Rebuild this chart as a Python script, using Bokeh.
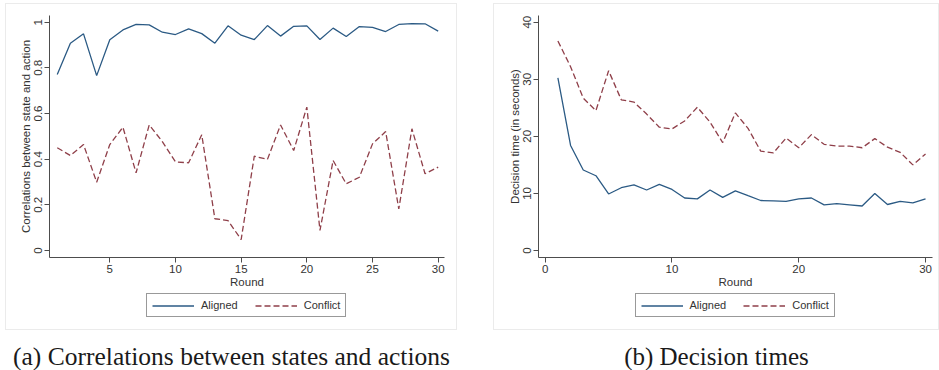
from bokeh.plotting import figure
from bokeh.models import Range1d, FixedTicker, Legend, LegendItem
from bokeh.layouts import row, column
from bokeh.core.properties import value
from bokeh.embed import file_html
from bokeh.resources import INLINE

# ---------------- data ----------------
rounds = [1, 2, 3, 4, 5, 6, 7, 8, 9, 10, 11, 12, 13, 14, 15,
          16, 17, 18, 19, 20, 21, 22, 23, 24, 25, 26, 27, 28, 29, 30]
series_names = ["Aligned", "Conflict"]

corr_aligned = [0.771, 0.908, 0.949, 0.766, 0.923, 0.966, 0.990, 0.988, 0.956, 0.946,
                0.971, 0.950, 0.908, 0.984, 0.943, 0.924, 0.985, 0.939, 0.982, 0.984,
                0.924, 0.974, 0.937, 0.981, 0.977, 0.959, 0.990, 0.994, 0.993, 0.961]
corr_conflict = [0.450, 0.416, 0.464, 0.299, 0.464, 0.540, 0.340, 0.550, 0.477, 0.388,
                 0.384, 0.507, 0.139, 0.131, 0.048, 0.413, 0.399, 0.550, 0.438, 0.628,
                 0.088, 0.394, 0.292, 0.321, 0.467, 0.521, 0.182, 0.533, 0.336, 0.365]

time_aligned = [30.25, 18.4, 14.1, 13.1, 9.9, 11.0, 11.5, 10.6, 11.6, 10.7,
                9.2, 9.05, 10.6, 9.3, 10.45, 9.6, 8.76, 8.7, 8.6, 9.05,
                9.2, 8.0, 8.2, 8.0, 7.8, 10.0, 8.06, 8.6, 8.35, 9.05]
time_conflict = [36.7, 32.2, 26.7, 24.5, 31.5, 26.4, 26.0, 23.9, 21.6, 21.3,
                 22.7, 25.1, 22.5, 18.9, 24.1, 21.4, 17.4, 17.1, 19.7, 18.0,
                 20.3, 18.6, 18.3, 18.3, 18.0, 19.6, 18.1, 17.2, 15.0, 16.9]

corr_xticks = [5, 10, 15, 20, 25, 30]
corr_yticks = [0, 0.2, 0.4, 0.6, 0.8, 1]
corr_ytick_labels = ["0", "0.2", "0.4", "0.6", "0.8", "1"]
time_xticks = [0, 10, 20, 30]
time_yticks = [0, 10, 20, 30, 40]
time_ytick_labels = ["0", "10", "20", "30", "40"]

x_title = "Round"
corr_ytitle = "Correlations between state and action"
time_ytitle = "Decision time (in seconds)"
caption_a = "(a) Correlations between states and actions"
caption_b = "(b) Decision times"

# ---------------- style ----------------
NAVY = "#2b5a84"
MAROON = "#8f3f49"
AXIS = "#4d4d4d"
TEXT = "#333333"
SANS = "Liberation Sans"
SERIF = "Liberation Serif"

TOP = 12          # frame top inside the chart figure
FRAME_H = 242     # chart frame height
AX_BOTTOM = 36    # space under the chart frame for tick labels + axis title
LEG_H = 77        # legend + caption strip height
LEG_BOTTOM = 53   # legend box bottom, measured up from the strip bottom
CAP_Y = 14        # caption centre, measured up from the strip bottom
LEG_W = 201       # expected legend box width
PANEL_H = 327     # faint panel frame height

FRAME_CSS = ("linear-gradient(#ebebeb,#ebebeb) left top/1px {h}px no-repeat, "
             "linear-gradient(#ebebeb,#ebebeb) right top/1px {h}px no-repeat, "
             "linear-gradient(#ebebeb,#ebebeb) left top/100% 1px no-repeat, "
             "linear-gradient(#ebebeb,#ebebeb) left {b}px/100% 1px no-repeat").format(
                 h=PANEL_H, b=PANEL_H - 1)


def style_axes(p):
    p.yaxis.major_label_orientation = "vertical"
    for ax in (p.xaxis[0], p.yaxis[0]):
        ax.axis_line_color = AXIS
        ax.major_tick_line_color = AXIS
        ax.minor_tick_line_color = None
        ax.major_tick_in = 0
        ax.major_tick_out = 5
        ax.major_label_text_font = SANS
        ax.major_label_text_font_size = "11.5px"
        ax.major_label_text_color = TEXT
        ax.axis_label_text_font = SANS
        ax.axis_label_text_font_size = "11.5px"
        ax.axis_label_text_font_style = "normal"
        ax.axis_label_text_color = TEXT
        ax.major_label_standoff = 2
        ax.axis_label_standoff = 0


def make_panel(width, mb_left, mb_right, xr, yr, xticks, yticks, ylabels, ytitle,
               ya, yc, caption, cap_size, left_margin):
    # ---- chart ----
    p = figure(width=width, height=TOP + FRAME_H + AX_BOTTOM,
               x_range=Range1d(*xr), y_range=Range1d(*yr),
               output_backend="svg", toolbar_location=None,
               min_border_left=mb_left, min_border_right=mb_right,
               min_border_top=TOP, min_border_bottom=AX_BOTTOM,
               background_fill_color="white", border_fill_color=None)
    p.grid.visible = False
    p.outline_line_color = None
    p.line(rounds, ya, line_color=NAVY, line_width=1.3)
    p.line(rounds, yc, line_color=MAROON, line_width=1.3, line_dash="6 3")
    p.xaxis.ticker = FixedTicker(ticks=xticks)
    p.yaxis.ticker = FixedTicker(ticks=yticks)
    p.yaxis.major_label_overrides = {t: l for t, l in zip(yticks, ylabels)}
    style_axes(p)
    p.xaxis.axis_label = x_title
    p.yaxis.axis_label = ytitle
    chart_frame_w = width - mb_left - mb_right

    # ---- legend + caption strip ----
    can_unalign = "frame_align" in p.properties()
    if can_unalign:
        p.frame_align = False
        q_left, q_right = 0, 0
    else:
        q_left, q_right = mb_left, mb_right
    q = figure(width=width, height=LEG_H, x_range=Range1d(-1, 0),
               y_range=Range1d(0, LEG_H),
               x_axis_location=None, y_axis_location=None,
               output_backend="svg", toolbar_location=None,
               min_border_left=q_left, min_border_right=q_right,
               min_border_top=0, min_border_bottom=0,
               background_fill_color=None, border_fill_color=None)
    if can_unalign:
        q.frame_align = False
    q.grid.visible = False
    q.outline_line_color = None
    # legend samples (the series sit outside this strip's visible range)
    q1 = q.line(rounds, ya, line_color=NAVY, line_width=1.3)
    q2 = q.line(rounds, yc, line_color=MAROON, line_width=1.3, line_dash="6 3")
    leg_x = (mb_left - q_left) + (chart_frame_w - LEG_W) / 2
    legend = Legend(items=[LegendItem(label=series_names[0], renderers=[q1]),
                           LegendItem(label=series_names[1], renderers=[q2])],
                    orientation="horizontal",
                    location=(leg_x, LEG_BOTTOM),
                    border_line_color="#333333", border_line_width=1,
                    padding=5, margin=0, spacing=17,
                    glyph_width=42, glyph_height=11, label_height=11,
                    label_standoff=7,
                    label_text_font=SANS, label_text_font_size="11px",
                    label_text_color=TEXT, background_fill_color="white")
    q.add_layout(legend, "center")
    q.text(x=[-0.5], y=[CAP_Y], text=[caption], text_font=value(SERIF),
           text_font_size=cap_size, text_align="center", text_baseline="middle",
           text_color="#1a1a1a")

    return column(p, q, spacing=0, margin=(3, 0, 0, left_margin),
                  styles={"background": FRAME_CSS})


col_a = make_panel(452, 44, 13, (0.41, 30.48), (-0.0307, 1.0293),
                   corr_xticks, corr_yticks, corr_ytick_labels, corr_ytitle,
                   corr_aligned, corr_conflict, caption_a, "25.5px", 5)
col_b = make_panel(446, 45, 7, (-0.53, 30.55), (-1.226, 41.17),
                   time_xticks, time_yticks, time_ytick_labels, time_ytitle,
                   time_aligned, time_conflict, caption_b, "25px", 36)
layout = row(col_a, col_b, spacing=0)

open("out.html", "w").write(file_html(layout, INLINE))
